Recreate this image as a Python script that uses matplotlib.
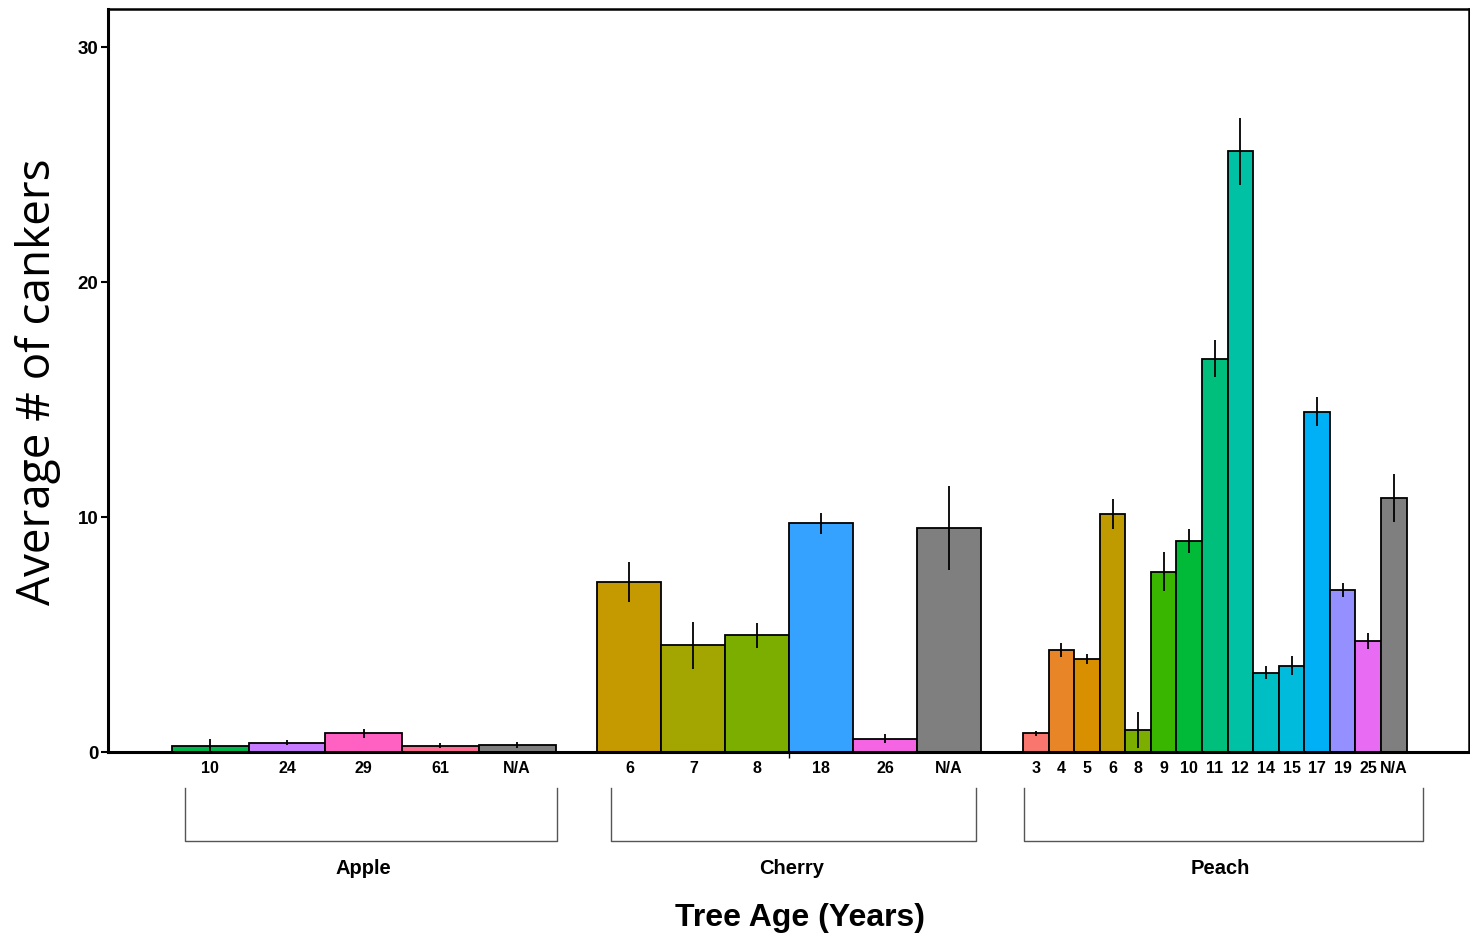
import matplotlib
matplotlib.use("Agg")
import matplotlib.pyplot as plt
import numpy as np

# data
groups = ["Apple", "Cherry", "Peach"]

apple_ages = ["10", "24", "29", "61", "N/A"]
apple_means = [0.26, 0.40, 0.79, 0.26, 0.31]
apple_err = [0.30, 0.12, 0.20, 0.11, 0.13]
apple_colors = ["#00B84A", "#C77CFF", "#FF61C3", "#FF6C91", "#7F7F7F"]

cherry_ages = ["6", "7", "8", "18", "26", "N/A"]
cherry_means = [7.23, 4.54, 4.96, 9.72, 0.57, 9.53]
cherry_err = [0.83, 0.99, 0.53, 0.45, 0.18, 1.78]
cherry_colors = ["#C49A00", "#A3A500", "#7CAE00", "#35A2FF", "#F564E3", "#7F7F7F"]

peach_ages = ["3", "4", "5", "6", "8", "9", "10", "11", "12", "14", "15", "17", "19", "25", "N/A"]
peach_means = [0.80, 4.34, 3.97, 10.12, 0.95, 7.67, 8.98, 16.73, 25.54, 3.37, 3.67, 14.48, 6.90, 4.72, 10.82]
peach_err = [0.10, 0.28, 0.21, 0.64, 0.77, 0.84, 0.52, 0.79, 1.44, 0.28, 0.41, 0.60, 0.30, 0.35, 1.02]
peach_colors = ["#F8766D", "#E88526", "#D89000", "#BF9B00", "#7CAE00", "#39B600", "#00BA38",
                "#00BF7D", "#00C1A3", "#00BFC4", "#00BBDC", "#00B0F6", "#9590FF", "#E76BF3", "#7F7F7F"]

# bracket spans and label spots relative to each group (group width = 1)
bracket_spans = [(0.034, 1.005), (0.034, 0.987), (0.003, 1.042)]
label_spots = [0.5, 0.505, 0.515]

all_ages = [apple_ages, cherry_ages, peach_ages]
all_means = [apple_means, cherry_means, peach_means]
all_err = [apple_err, cherry_err, peach_err]
all_colors = [apple_colors, cherry_colors, peach_colors]

gap = 42 / 384
fig = plt.figure(figsize=(14.7, 9.37), dpi=100)
ax = fig.add_axes([108 / 1470, 184 / 937, 1 - 108 / 1470 - 0.001, (753 - 10) / 937])

tick_pos = []
tick_lab = []
centers = []
for g in range(3):
    start = g * (1 + gap)
    n = len(all_ages[g])
    w = 1.0 / n
    xs = start + w * (np.arange(n) + 0.5)
    ax.bar(xs, all_means[g], width=w, color=all_colors[g], edgecolor="black", linewidth=1.3, zorder=2)
    ax.errorbar(xs, all_means[g], yerr=all_err[g], fmt="none", ecolor="black", elinewidth=1.3,
                capsize=0, zorder=3)
    tick_pos += list(xs)
    tick_lab += all_ages[g]
    centers.append(start + 0.5)

    # bracket under the group
    b0, b1 = start + bracket_spans[g][0], start + bracket_spans[g][1]
    ax.plot([b0, b0, b1, b1], [-1.55, -3.8, -3.8, -1.55], color="#555555", lw=1.0,
            clip_on=False, zorder=1)
    ax.text(start + label_spots[g], -4.9, groups[g], ha="center", va="center", fontsize=14.5,
            fontweight="bold", family="Liberation Sans")

ax.set_xlim(-64 / 384, 2 * (1 + gap) + 1 + 62 / 384)
ax.set_ylim(0, 31.6)

ax.set_xticks(tick_pos)
ax.set_xticklabels(tick_lab, fontsize=11.5, fontweight="bold", family="Liberation Sans")
ax.tick_params(axis="x", length=0, pad=6)
ax.set_xticks(centers, minor=True)
ax.tick_params(axis="x", which="minor", length=4, width=1, direction="out")

ax.set_yticks([0, 10, 20, 30])
ax.set_yticklabels(["0", "10", "20", "30"], fontsize=13.5, fontweight="bold", family="Liberation Sans")
ax.tick_params(axis="y", length=5, width=1.5, pad=2)

for side in ["left", "bottom"]:
    ax.spines[side].set_linewidth(2.2)
for side in ["top", "right"]:
    ax.spines[side].set_linewidth(1.8)

ax.set_ylabel("Average # of cankers", fontsize=33, family=["Liberation Sans Narrow", "Open Sans", "DejaVu Sans"],
              labelpad=12)
fig.text(800 / 1470, 1 - 918 / 937, "Tree Age (Years)", ha="center", va="center", fontsize=23,
         fontweight="bold", family="Liberation Sans")

fig.savefig("out.png", dpi=100)
